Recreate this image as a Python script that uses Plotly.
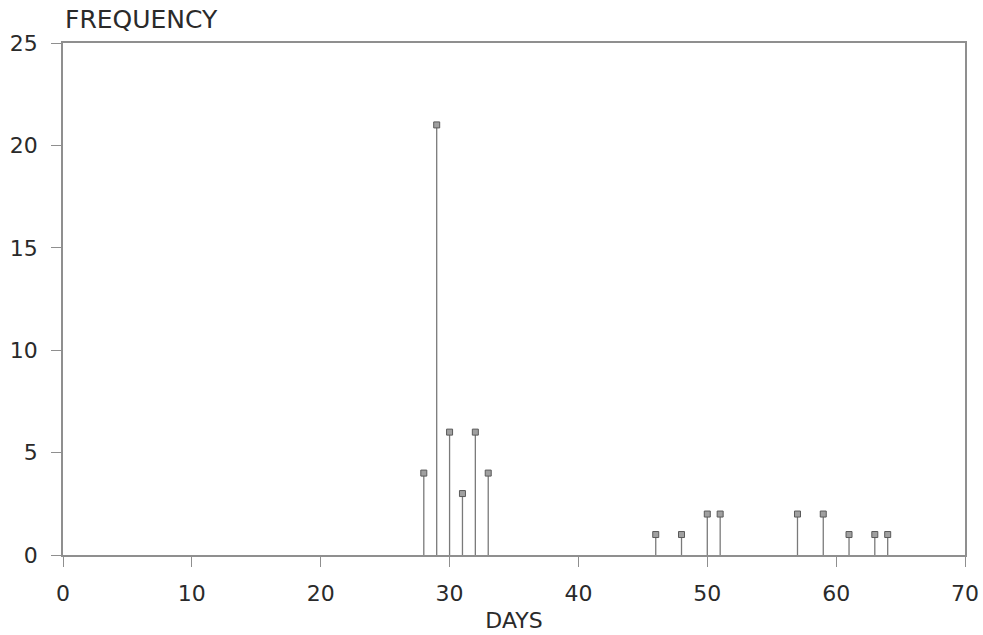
import plotly.graph_objects as go

days = [28, 29, 30, 31, 32, 33, 46, 48, 50, 51, 57, 59, 61, 63, 64]
frequency = [4, 21, 6, 3, 6, 4, 1, 1, 2, 2, 2, 2, 1, 1, 1]
x_ticks = [0, 10, 20, 30, 40, 50, 60, 70]
y_ticks = [0, 5, 10, 15, 20, 25]

stem_x, stem_y = [], []
for d, f in zip(days, frequency):
    stem_x += [d, d, None]
    stem_y += [0, f, None]

fig = go.Figure()
fig.add_trace(go.Scatter(x=stem_x, y=stem_y, mode="lines",
                         line=dict(color="#7a7a7a", width=1.3),
                         hoverinfo="skip", showlegend=False))
fig.add_trace(go.Scatter(x=days, y=frequency, mode="markers",
                         marker=dict(symbol="square", size=6, color="#a0a0a0",
                                     line=dict(color="#5a5a5a", width=1)),
                         showlegend=False))

font = dict(family="DejaVu Sans, Liberation Sans, sans-serif", color="#2a2a2a")
fig.update_layout(
    width=983, height=635,
    margin=dict(l=63, r=18, t=43, b=80, autoexpand=False),
    paper_bgcolor="white", plot_bgcolor="white",
    font=dict(size=20, **font),
    xaxis=dict(range=[0, 70], tickvals=x_ticks, showgrid=False, zeroline=False,
               automargin=False,
               showline=True, linecolor="#8f8f8f", linewidth=1.5, mirror=True,
               ticks="outside", ticklen=10, tickcolor="#8f8f8f", tickwidth=1.3,
               ticklabelstandoff=8,
               tickfont=dict(size=22, **font),
               title=dict(text="DAYS", font=dict(size=22, **font), standoff=7)),
    yaxis=dict(range=[0, 25], tickvals=y_ticks, showgrid=False, zeroline=False,
               automargin=False,
               showline=True, linecolor="#8f8f8f", linewidth=1.5, mirror=True,
               ticks="outside", ticklen=10, tickcolor="#8f8f8f", tickwidth=1.3,
               ticklabelstandoff=9,
               tickfont=dict(size=22, **font)),
    annotations=[dict(text="FREQUENCY", xref="paper", yref="paper", x=0, y=1,
                      xanchor="left", yanchor="bottom", yshift=7, showarrow=False,
                      font=dict(size=25, **font))],
)
fig.write_html(
    "out.html",
    config={"displayModeBar": False},
    post_script="document.body.style.margin='0';document.body.style.overflow='hidden';",
)
